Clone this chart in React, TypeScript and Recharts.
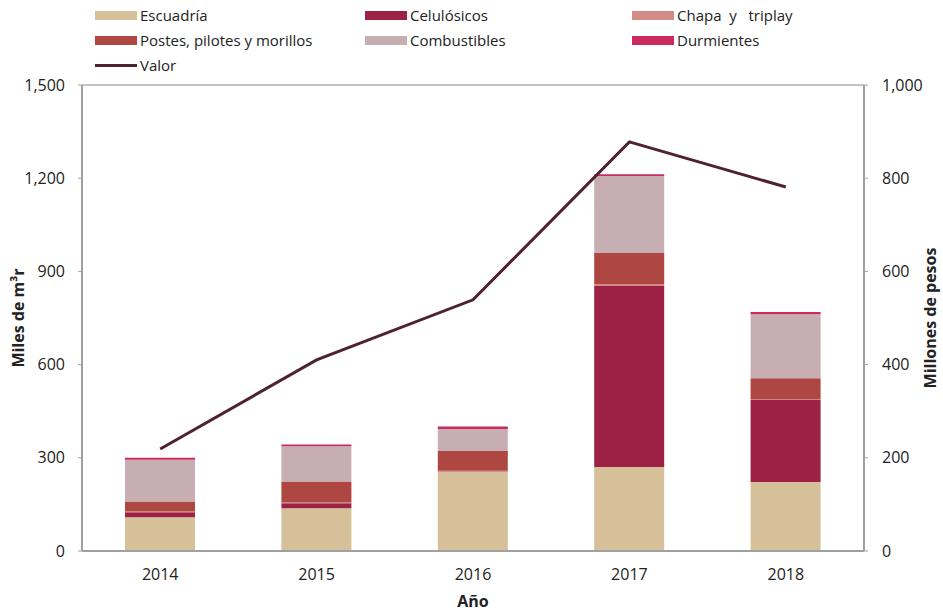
import React from "react";
import { ComposedChart, Bar, Line, XAxis, YAxis, CartesianGrid } from "recharts";

const years = ["2014", "2015", "2016", "2017", "2018"];
const escuadria = [109, 138, 254, 270, 222];
const celulosicos = [16, 16, 2, 583, 264];
const chapa = [2, 2, 2, 6, 2];
const postes = [32, 68, 64, 100, 68];
const combustibles = [135, 113, 71, 248, 206];
const durmientes = [6, 6, 8, 6, 7];
const valor = [219, 410, 539, 878, 781];

const leftTicks = [0, 300, 600, 900, 1200, 1500];
const rightTicks = [0, 200, 400, 600, 800, 1000];

const data = years.map((y, i) => ({
  year: y,
  escuadria: escuadria[i],
  celulosicos: celulosicos[i],
  chapa: chapa[i],
  postes: postes[i],
  combustibles: combustibles[i],
  durmientes: durmientes[i],
  valor: valor[i],
}));

const colors = {
  escuadria: "#D5C09A",
  celulosicos: "#9C2145",
  chapa: "#D38C85",
  postes: "#AE4642",
  combustibles: "#C7AEB2",
  durmientes: "#CB2A5E",
  valor: "#4E2230",
};

const legendItems = [
  { label: "Escuadría", color: colors.escuadria, x: 95, y: 15, line: false },
  { label: "Celulósicos", color: colors.celulosicos, x: 365, y: 15, line: false },
  { label: "Chapa  y   triplay", color: colors.chapa, x: 632, y: 15, line: false },
  { label: "Postes, pilotes y morillos", color: colors.postes, x: 95, y: 40, line: false },
  { label: "Combustibles", color: colors.combustibles, x: 365, y: 40, line: false },
  { label: "Durmientes", color: colors.durmientes, x: 632, y: 40, line: false },
  { label: "Valor", color: colors.valor, x: 95, y: 65, line: true },
];

const font = "'Open Sans', 'DejaVu Sans', sans-serif";
const fmt = (v: number) => v.toLocaleString("en-US");

export default function App() {
  return (
    <div style={{ position: "absolute", left: 0, top: 0, width: 943, height: 613, background: "#fff" }}>
      <ComposedChart
        width={943}
        height={613}
        data={data}
        margin={{ top: 85, right: 0, bottom: 0, left: 0 }}
        barCategoryGap={0}
      >
        <CartesianGrid vertical={false} stroke="#c4c4c4" strokeWidth={2} />
        <XAxis
          dataKey="year"
          height={62}
          tickLine={false}
          tickSize={0}
          tickMargin={18}
          axisLine={{ stroke: "#a0a0a0", strokeWidth: 2 }}
          tick={{ fill: "#222", fontSize: 16, fontFamily: font }}
          label={{ value: "Año", position: "insideBottom", offset: 6, fill: "#222", fontSize: 16, fontWeight: 700, fontFamily: font }}
        />
        <YAxis
          yAxisId="left"
          width={82}
          domain={[0, 1500]}
          ticks={leftTicks}
          tickFormatter={fmt}
          tickSize={4}
          tickMargin={13}
          axisLine={{ stroke: "#a0a0a0", strokeWidth: 2 }}
          tickLine={{ stroke: "#a0a0a0" }}
          tick={{ fill: "#222", fontSize: 16, fontFamily: font }}
          label={{ value: "Miles de m³r", angle: -90, position: "insideLeft", offset: 18, fill: "#222", fontSize: 16, fontWeight: 700, fontFamily: font, style: { textAnchor: "middle" } }}
        />
        <YAxis
          yAxisId="right"
          orientation="right"
          width={79}
          domain={[0, 1000]}
          ticks={rightTicks}
          tickFormatter={fmt}
          tickSize={4}
          tickMargin={14}
          axisLine={{ stroke: "#a0a0a0", strokeWidth: 2 }}
          tickLine={{ stroke: "#a0a0a0" }}
          tick={{ fill: "#222", fontSize: 16, fontFamily: font }}
          label={{ value: "Millones de pesos", angle: -90, position: "insideRight", offset: 13, fill: "#222", fontSize: 16, fontWeight: 700, fontFamily: font, style: { textAnchor: "middle" } }}
        />
        <Bar yAxisId="left" dataKey="escuadria" stackId="a" fill={colors.escuadria} barSize={70} isAnimationActive={false} />
        <Bar yAxisId="left" dataKey="celulosicos" stackId="a" fill={colors.celulosicos} barSize={70} isAnimationActive={false} />
        <Bar yAxisId="left" dataKey="chapa" stackId="a" fill={colors.chapa} barSize={70} isAnimationActive={false} />
        <Bar yAxisId="left" dataKey="postes" stackId="a" fill={colors.postes} barSize={70} isAnimationActive={false} />
        <Bar yAxisId="left" dataKey="combustibles" stackId="a" fill={colors.combustibles} barSize={70} isAnimationActive={false} />
        <Bar yAxisId="left" dataKey="durmientes" stackId="a" fill={colors.durmientes} barSize={70} isAnimationActive={false} />
        <Line yAxisId="right" dataKey="valor" stroke={colors.valor} strokeWidth={3} dot={false} isAnimationActive={false} />
      </ComposedChart>
      {legendItems.map((it) => (
        <div
          key={it.label}
          style={{
            position: "absolute",
            left: it.x,
            top: it.y - 11,
            height: 22,
            display: "flex",
            alignItems: "center",
            fontFamily: font,
            fontSize: 15,
            color: "#222",
            whiteSpace: "pre",
          }}
        >
          <span
            style={{
              display: "inline-block",
              width: 42,
              height: it.line ? 3 : 9,
              background: it.color,
              marginRight: 3,
            }}
          />
          {it.label}
        </div>
      ))}
    </div>
  );
}
